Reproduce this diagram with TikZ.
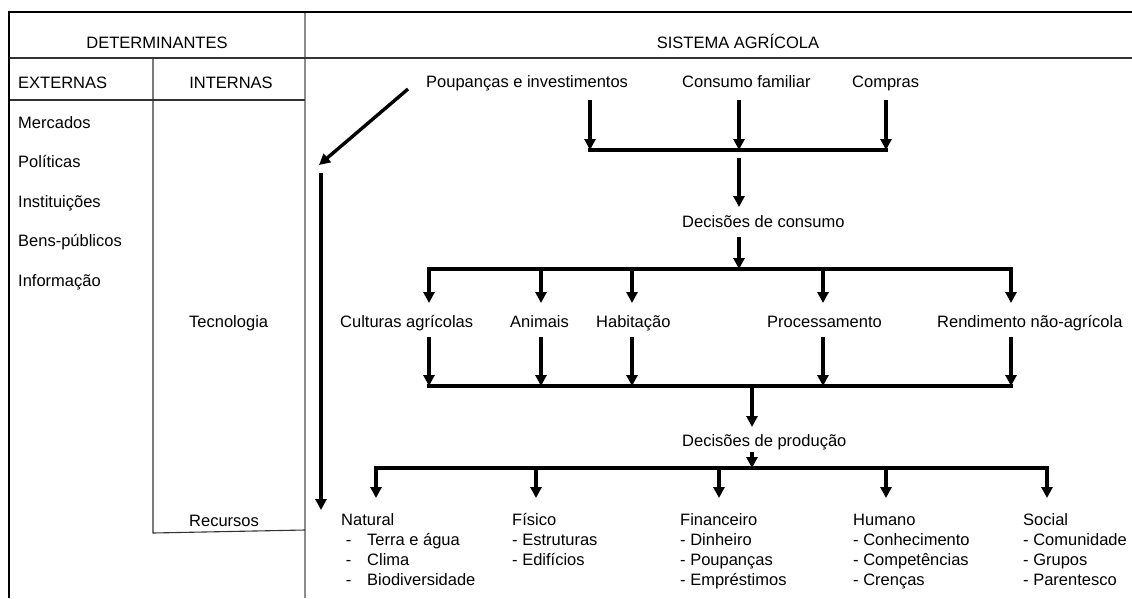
\documentclass[tikz,border=0pt]{standalone}
\usepackage{fontspec}
\setmainfont{Liberation Sans}
\usetikzlibrary{arrows.meta}
\begin{document}
\begin{tikzpicture}[x=1pt,y=-1pt,
  txt/.style={font=\fontsize{16.5}{20}\selectfont, inner sep=0pt, anchor=base west},
  ctxt/.style={font=\fontsize{16.5}{20}\selectfont, inner sep=0pt, anchor=base},
  arr/.style={line width=3.4pt, -{Triangle[width=11pt,length=11pt]}},
  barline/.style={line width=3.4pt, line cap=rect},
  frameline/.style={line width=2.6pt},
  gridline/.style={line width=1.1pt, draw=black!80},
  grayline/.style={line width=1.8pt, draw=black!45}]
\useasboundingbox (0,0) rectangle (1132,598);
\fill[white] (0,0) rectangle (1132,598);

% ---------- table frame ----------
\coordinate (tl) at (9,12);
\coordinate (tr) at (1132,12);
\coordinate (bl) at (9,598);
\coordinate (hl) at (9,58);
\coordinate (hr) at (1132,58);
\coordinate (vt) at (305,12);
\coordinate (vb) at (305,598);
\coordinate (rl) at (9,100);
\coordinate (rr) at (305,100);
\coordinate (dt) at (153,58);
\coordinate (db) at (153,533);
\coordinate (re) at (305,530);
\draw[grayline] (vt) -- (vb);
\draw[gridline] (hl) -- (hr);
\draw[gridline] (rl) -- (rr);
\draw[gridline] (dt) -- (db) -- (re);
\draw[frameline] (bl) -- (tl) -- (tr);

% ---------- left column texts ----------
\node[ctxt] (det) at (157,48) {DETERMINANTES};
\node[ctxt] (sis) at (738,48) {SISTEMA AGRÍCOLA};
\node[txt] (ext) at (18,88) {EXTERNAS};
\node[ctxt] (int) at (231,88) {INTERNAS};
\node[txt] (mer) at (18,128) {Mercados};
\node[txt] (pol) at (18,167) {Políticas};
\node[txt] (ins) at (18,207) {Instituições};
\node[txt] (ben) at (18,246) {Bens-públicos};
\node[txt] (inf) at (18,286) {Informação};
\node[txt] (tec) at (189,327) {Tecnologia};
\node[txt] (rec) at (189,526) {Recursos};

% ---------- system texts ----------
\node[txt] (pou) at (426,87) {Poupanças e investimentos};
\node[txt] (con) at (682,87) {Consumo familiar};
\node[txt] (com) at (852,87) {Compras};
\node[txt] (dcon) at (682,227) {Decisões de consumo};
\node[txt] (cul) at (340,327) {Culturas agrícolas};
\node[txt] (ani) at (510,327) {Animais};
\node[txt] (hab) at (596,327) {Habitação};
\node[txt] (pro) at (767,327) {Processamento};
\node[txt] (ren) at (937,327) {Rendimento não-agrícola};
\node[txt] (dpro) at (682,446) {Decisões de produção};

\node[txt] (nat) at (341,525) {\begin{tabular}[t]{@{}l@{}}Natural\\
  \makebox[26pt][l]{\ -}Terra e água\\
  \makebox[26pt][l]{\ -}Clima\\
  \makebox[26pt][l]{\ -}Biodiversidade\end{tabular}};
\node[txt] (fis) at (512,525) {\begin{tabular}[t]{@{}l@{}}Físico\\- Estruturas\\- Edifícios\end{tabular}};
\node[txt] (fin) at (680,525) {\begin{tabular}[t]{@{}l@{}}Financeiro\\- Dinheiro\\- Poupanças\\- Empréstimos\end{tabular}};
\node[txt] (hum) at (853,525) {\begin{tabular}[t]{@{}l@{}}Humano\\- Conhecimento\\- Competências\\- Crenças\end{tabular}};
\node[txt] (soc) at (1023,525) {\begin{tabular}[t]{@{}l@{}}Social\\- Comunidade\\- Grupos\\- Parentesco\end{tabular}};

% ---------- connector coordinates ----------
\coordinate (pS) at (590,100);  \coordinate (pE) at (590,150);
\coordinate (cS) at (739,100);  \coordinate (cE) at (739,150);
\coordinate (kS) at (886,100);  \coordinate (kE) at (886,150);
\coordinate (d1S) at (739,158); \coordinate (d1E) at (739,207);
\coordinate (d2S) at (739,237); \coordinate (d2E) at (739,269);
\foreach \n/\x in {a/429,b/541,c/632,d/823,e/1011}{
  \coordinate (u\n) at (\x,269);
  \coordinate (v\n) at (\x,303);
  \coordinate (w\n) at (\x,337);
  \coordinate (z\n) at (\x,386);
}
\coordinate (d3S) at (752,386); \coordinate (d3E) at (752,427);
\coordinate (d4S) at (752,452); \coordinate (d4E) at (752,468);
\foreach \n/\x in {a/376,b/536,c/719,d/886,e/1047}{
  \coordinate (r\n) at (\x,468);
  \coordinate (s\n) at (\x,498);
}
\coordinate (diagS) at (408,89); \coordinate (diagE) at (319,165);
\coordinate (longS) at (321,173); \coordinate (longE) at (321,510);

% ---------- bars ----------
\draw[barline] (pE) -- (kE);
\draw[barline] (ua) -- (ue);
\draw[barline] (za) -- (ze);
\draw[barline] (ra) -- (re);

% ---------- arrows ----------
\draw[arr] (pS) -- (pE);
\draw[arr] (cS) -- (cE);
\draw[arr] (kS) -- (kE);
\draw[arr] (d1S) -- (d1E);
\draw[arr] (d2S) -- (d2E);
\foreach \n in {a,b,c,d,e}{
  \draw[arr] (u\n) -- (v\n);
  \draw[arr] (w\n) -- (z\n);
  \draw[arr] (r\n) -- (s\n);
}
\draw[arr] (d3S) -- (d3E);
\draw[arr] (d4S) -- (d4E);
\draw[arr] (diagS) -- (diagE);
\draw[arr] (longS) -- (longE);
\end{tikzpicture}
\end{document}
